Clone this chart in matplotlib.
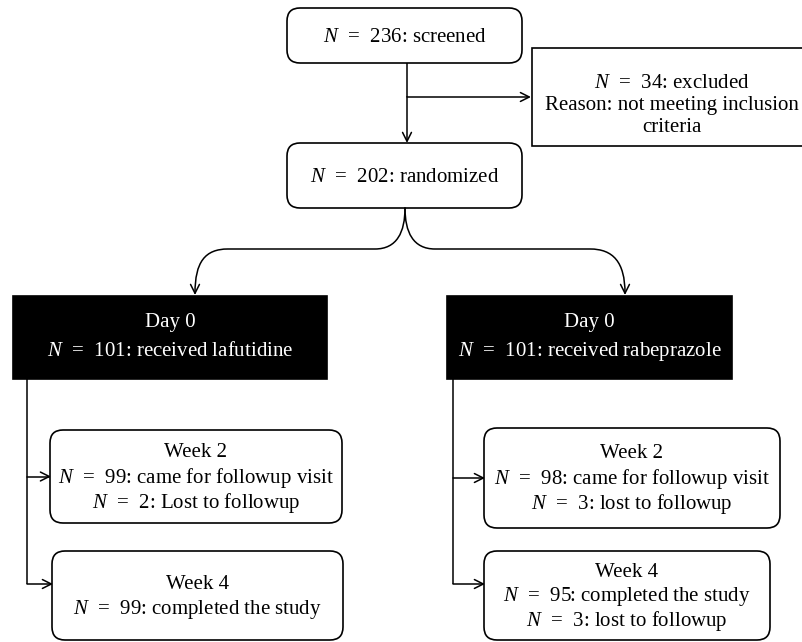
import matplotlib.pyplot as plt
from matplotlib.patches import FancyBboxPatch, Rectangle, FancyArrowPatch
from matplotlib.path import Path

plt.rcParams['font.family'] = 'Liberation Serif'
plt.rcParams['mathtext.fontset'] = 'custom'
plt.rcParams['mathtext.rm'] = 'Liberation Serif'
plt.rcParams['mathtext.it'] = 'Liberation Serif:italic'

# counts in the flow
screened = 236
excluded = 34
randomized = 202
drugs = ['lafutidine', 'rabeprazole']
received = [101, 101]
week2_came = [99, 98]
week2_lost = [2, 3]
week4_done = [99, 95]
week4_lost = [None, 3]
lost_word = ['Lost', 'lost']

fig = plt.figure(figsize=(8.03, 6.42), dpi=100)
ax = fig.add_axes([0, 0, 1, 1])
ax.set_xlim(0, 803)
ax.set_ylim(642, 0)
ax.axis('off')

FS = 15


def box(x0, y0, x1, y1, lines, dark=False, rounded=True, dy=25, off=6):
    if rounded:
        p = FancyBboxPatch((x0, y0), x1 - x0, y1 - y0,
                           boxstyle='round,pad=0,rounding_size=13',
                           fc='white', ec='black', lw=1.2)
    else:
        p = Rectangle((x0, y0), x1 - x0, y1 - y0,
                      fc='black' if dark else 'white', ec='black', lw=1.2)
    ax.add_patch(p)
    cy = (y0 + y1) / 2
    n = len(lines)
    for i, s in enumerate(lines):
        ax.text((x0 + x1) / 2, cy + (i - (n - 1) / 2) * dy + off, s,
                ha='center', va='baseline', fontsize=FS,
                color='white' if dark else 'black')


def arrow(pts, curved=False):
    if curved:
        codes = [Path.MOVETO, Path.CURVE4, Path.CURVE4, Path.CURVE4,
                 Path.LINETO, Path.CURVE4, Path.CURVE4, Path.CURVE4]
    else:
        codes = [Path.MOVETO] + [Path.LINETO] * (len(pts) - 1)
    a = FancyArrowPatch(path=Path(pts, codes), arrowstyle='->',
                        mutation_scale=16, lw=1.1, color='black',
                        shrinkA=0, shrinkB=0)
    ax.add_patch(a)


def line(xs, ys):
    ax.plot(xs, ys, color='black', lw=1.1, solid_capstyle='butt')


def n(v):
    return r'$N$  =  ' + str(v)


box(287, 8, 522, 63, [n(screened) + ': screened'])
box(532, 48, 812, 146, [n(excluded) + ': excluded',
                        'Reason: not meeting inclusion', 'criteria'],
    rounded=False, dy=22.5, off=13)
box(287, 143, 522, 208, [n(randomized) + ': randomized'])

line([407, 407], [63, 97])
arrow([(407, 97), (407, 143)])
arrow([(407, 97), (531, 97)])

# split to the two arms
arrow([(405, 208), (405, 232), (397, 249), (375, 249), (228, 249),
       (205, 249), (195, 262), (195, 295)], curved=True)
arrow([(405, 208), (405, 232), (413, 249), (435, 249), (590, 249),
       (613, 249), (625, 262), (625, 295)], curved=True)

arms = [dict(bx=(13, 327), vx=27, w2=(50, 342, 430, 523), w4=(52, 343, 551, 640)),
        dict(bx=(447, 732), vx=453, w2=(484, 780, 428, 528), w4=(484, 770, 551, 640))]

for k, arm in enumerate(arms):
    box(arm['bx'][0], 296, arm['bx'][1], 379,
        ['Day 0', n(received[k]) + ': received ' + drugs[k]],
        dark=True, rounded=False, dy=29, off=4)
    x2a, x2b, y2a, y2b = arm['w2']
    x4a, x4b, y4a, y4b = arm['w4']
    box(x2a, y2a, x2b, y2b,
        ['Week 2', n(week2_came[k]) + ': came for followup visit',
         n(week2_lost[k]) + ': ' + lost_word[k] + ' to followup'], dy=25.5)
    l4 = ['Week 4', n(week4_done[k]) + ': completed the study']
    if week4_lost[k] is not None:
        l4.append(n(week4_lost[k]) + ': lost to followup')
    box(x4a, y4a, x4b, y4b, l4, dy=24.5)
    vx = arm['vx']
    ya = (y2a + y2b) / 2
    yb = y4a + 33
    line([vx, vx], [379, yb])
    arrow([(vx, ya), (x2a + 1, ya)])
    arrow([(vx, yb), (x4a + 1, yb)])

fig.savefig('out.png', dpi=100)
